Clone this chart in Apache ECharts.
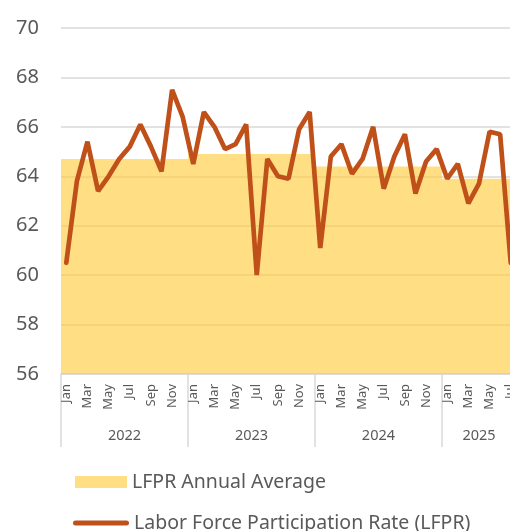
<!DOCTYPE html>
<html>
<head>
<meta charset="utf-8">
<script src="https://cdn.jsdelivr.net/npm/echarts@6/dist/echarts.min.js"></script>
<style>
  html, body { margin: 0; padding: 0; background: #fff; }
  #chart { width: 510px; height: 531px; }
</style>
</head>
<body>
<div id="chart"></div>
<script>
// 月份、年份
const months = ['Jan', 'Feb', 'Mar', 'Apr', 'May', 'Jun', 'Jul', 'Aug', 'Sep', 'Oct', 'Nov', 'Dec'];
const years = ['2022', '2023', '2024', '2025'];
const monthsPerYear = [12, 12, 12, 7];

// 每月劳动参与率
const lfpr2022 = [60.5, 63.8, 65.4, 63.4, 64.0, 64.7, 65.2, 66.1, 65.2, 64.2, 67.5, 66.4];
const lfpr2023 = [64.5, 66.6, 66.0, 65.1, 65.3, 66.1, 60.0, 64.7, 64.0, 63.9, 65.9, 66.6];
const lfpr2024 = [61.1, 64.8, 65.3, 64.1, 64.7, 66.0, 63.5, 64.8, 65.7, 63.3, 64.6, 65.1];
const lfpr2025 = [63.9, 64.5, 62.9, 63.7, 65.8, 65.7, 60.5];

// 年平均
const annualAvg = [64.7, 64.9, 64.4, 63.9];

// y轴
const yMin = 56;
const yMax = 70;
const yStep = 2;

const textColor = '#595959';
const fontFamily = '"Noto Sans", sans-serif';
const fillColor = 'rgba(255, 200, 50, 0.6)';
const lineColor = '#C0501A';

// 组装月度数据
const monthCats = [];
years.forEach((y, i) => {
    for (let m = 0; m < monthsPerYear[i]; m++) {
        monthCats.push(months[m]);
    }
});
const lineData = [].concat(lfpr2022, lfpr2023, lfpr2024, lfpr2025);

// 年份轴：半月为一格（边界点），年度平均按阶梯画在这条轴上
const yearSlots = [];
const yearTicks = [];
const yearLabelAt = {};
const avgSteps = [];
let start = 0;
years.forEach((y, i) => {
    yearTicks.push(start * 2);
    yearLabelAt[start * 2 + monthsPerYear[i]] = y;
    for (let k = 0; k < monthsPerYear[i] * 2; k++) {
        avgSteps.push(annualAvg[i]);
    }
    start += monthsPerYear[i];
});
avgSteps.push(annualAvg[annualAvg.length - 1]);
for (let k = 0; k <= monthCats.length * 2; k++) {
    yearSlots.push(yearLabelAt[k] || '');
}

let chart = echarts.init(document.getElementById('chart'));

const legendText = {
    color: textColor,
    fontSize: 19.5,
    fontFamily: fontFamily
};

chart.setOption({
    animation: false,
    grid: {
        left: 61,
        top: 28,
        width: 455,
        bottom: 157,
        containLabel: false,
        outerBoundsMode: 'none'
    },
    legend: [{
        left: 75,
        top: 472,
        padding: 0,
        itemWidth: 52,
        itemHeight: 12,
        textStyle: legendText,
        data: [{ name: 'LFPR Annual Average', icon: 'rect' }]
    }, {
        left: 73,
        top: 513,
        padding: 0,
        itemWidth: 56,
        itemHeight: 5,
        textStyle: legendText,
        data: [{
            name: 'Labor Force Participation Rate (LFPR)',
            icon: 'path://M2.5,0 H53.5 A2.5,2.5 0 0 1 53.5,5 H2.5 A2.5,2.5 0 0 1 2.5,0 Z'
        }]
    }],
    xAxis: [{
        type: 'category',
        data: monthCats,
        boundaryGap: true,
        axisLine: {
            show: true,
            lineStyle: { color: '#D9D9D9', width: 1.5 }
        },
        axisTick: { show: false },
        axisLabel: {
            interval: 1,
            rotate: 90,
            margin: 10,
            color: textColor,
            fontSize: 13,
            fontFamily: fontFamily
        }
    }, {
        type: 'category',
        data: yearSlots,
        boundaryGap: false,
        position: 'bottom',
        axisLine: { show: false },
        axisTick: {
            show: true,
            length: 73,
            interval: (i) => yearTicks.indexOf(i) >= 0,
            lineStyle: { color: '#D9D9D9', width: 1.5 }
        },
        axisLabel: {
            interval: (i, v) => v !== '',
            margin: 54,
            color: textColor,
            fontSize: 14.5,
            fontFamily: fontFamily
        }
    }],
    yAxis: {
        type: 'value',
        min: yMin,
        max: yMax,
        interval: yStep,
        axisLine: { show: false },
        axisTick: { show: false },
        axisLabel: {
            margin: 22,
            color: textColor,
            fontSize: 20,
            fontFamily: fontFamily
        },
        splitLine: {
            lineStyle: { color: '#D9D9D9', width: 1.5 }
        }
    },
    series: [{
        name: 'LFPR Annual Average',
        type: 'line',
        xAxisIndex: 1,
        data: avgSteps,
        step: 'end',
        symbol: 'none',
        lineStyle: { width: 0 },
        itemStyle: { color: fillColor },
        areaStyle: { color: fillColor, opacity: 1, origin: 'start' },
        z: 1
    }, {
        name: 'Labor Force Participation Rate (LFPR)',
        type: 'line',
        data: lineData,
        symbol: 'none',
        lineStyle: { color: lineColor, width: 4.7, cap: 'round' },
        itemStyle: { color: lineColor },
        z: 3
    }]
});
</script>
</body>
</html>
